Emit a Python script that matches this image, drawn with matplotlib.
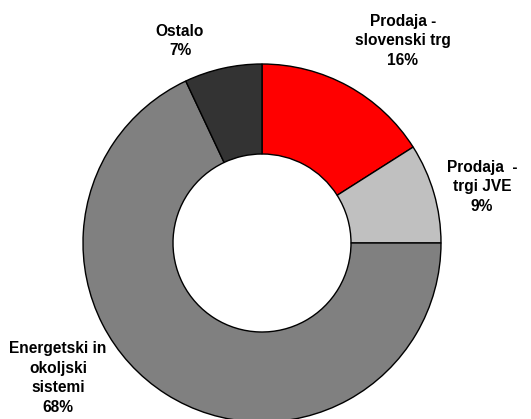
import numpy as np
import matplotlib
matplotlib.use("Agg")
import matplotlib.pyplot as plt

# segment data, clockwise from 12 o'clock
labels = ["Prodaja -\nslovenski trg", "Prodaja  -\ntrgi JVE",
          "Energetski in\nokoljski\nsistemi", "Ostalo"]
shares = [16, 9, 68, 7]
colors = ["#ff0000", "#c0c0c0", "#808080", "#333333"]

# where each label sits (pixel coords, origin bottom-left)
label_xy = [(403, 378), (482, 232), (58, 41), (180, 378)]

plt.rcParams['font.family'] = ['Liberation Sans', 'DejaVu Sans']

fig = plt.figure(figsize=(5.31, 4.19), dpi=100)
ax = fig.add_axes([0, 0, 1, 1])

ax.pie(shares, colors=colors, startangle=90, counterclock=False,
       center=(262, 176), radius=179, frame=True,
       wedgeprops=dict(width=90, edgecolor='black', linewidth=1.0))
ax.set_xlim(0, 531)
ax.set_ylim(0, 419)
ax.set_aspect('equal')
ax.axis('off')

for lab, v, (x, y) in zip(labels, shares, label_xy):
    ax.text(x, y, lab + "\n%d%%" % v, ha='center', va='center',
            fontsize=11.2, fontweight='bold', multialignment='center',
            linespacing=1.38)

fig.savefig("out.png", dpi=100)
